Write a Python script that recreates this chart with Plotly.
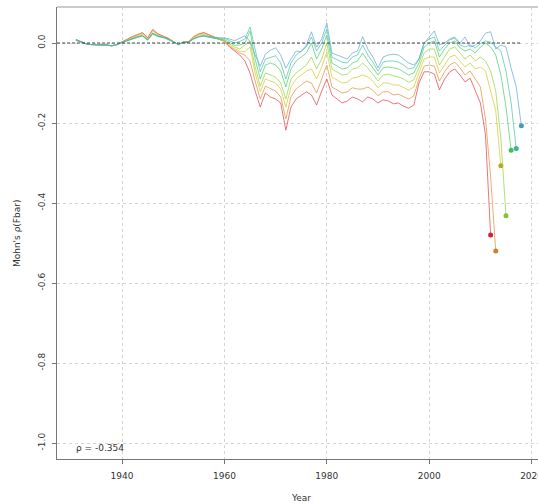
import plotly.graph_objects as go

start_year = 1931
peel_end_years = [2012, 2013, 2014, 2015, 2016, 2017, 2018]

# Relative difference (Fbar) for each retrospective peel, 1931..end year
peel_2012 = [0.009, 0.004, -0.002, -0.004, -0.004, -0.005, -0.005, -0.007, -0.004,
             0.003, 0.010, 0.016, 0.021, 0.026, 0.013, 0.034, 0.023, 0.018, 0.012,
             0.004, -0.004, 0.003, 0.003, 0.016, 0.023, 0.026, 0.020, 0.014, 0.009,
             0.004, -0.010, -0.020, -0.030, -0.045, -0.075, -0.120, -0.160, -0.125, -0.135,
             -0.140, -0.150, -0.218, -0.160, -0.140, -0.130, -0.122, -0.130, -0.155, -0.120,
             -0.090, -0.130, -0.140, -0.150, -0.145, -0.135, -0.140, -0.147, -0.135, -0.140,
             -0.150, -0.142, -0.145, -0.152, -0.150, -0.158, -0.163, -0.155, -0.100, -0.072,
             -0.072, -0.078, -0.117, -0.090, -0.072, -0.065, -0.080, -0.097, -0.088, -0.120,
             -0.150, -0.230, -0.480]
peel_2013 = [0.008, 0.004, -0.002, -0.004, -0.004, -0.005, -0.005, -0.007, -0.004,
             0.003, 0.009, 0.015, 0.020, 0.025, 0.012, 0.032, 0.022, 0.017, 0.012,
             0.004, -0.004, 0.003, 0.003, 0.015, 0.022, 0.025, 0.019, 0.014, 0.009,
             0.006, -0.008, -0.017, -0.025, -0.030, -0.045, -0.095, -0.140, -0.108, -0.115,
             -0.120, -0.135, -0.190, -0.135, -0.115, -0.105, -0.095, -0.100, -0.125, -0.090,
             -0.055, -0.110, -0.118, -0.125, -0.122, -0.112, -0.115, -0.115, -0.110, -0.118,
             -0.132, -0.122, -0.122, -0.130, -0.128, -0.135, -0.140, -0.132, -0.090, -0.058,
             -0.055, -0.058, -0.095, -0.072, -0.055, -0.048, -0.062, -0.080, -0.070, -0.090,
             -0.110, -0.190, -0.335, -0.520]
peel_2014 = [0.008, 0.003, -0.002, -0.004, -0.004, -0.005, -0.005, -0.007, -0.004,
             0.002, 0.008, 0.013, 0.018, 0.022, 0.010, 0.029, 0.020, 0.016, 0.011,
             0.004, -0.004, 0.003, 0.002, 0.014, 0.020, 0.022, 0.017, 0.013, 0.009,
             0.005, -0.005, -0.014, -0.020, -0.022, -0.010, -0.075, -0.122, -0.090, -0.095,
             -0.100, -0.115, -0.160, -0.110, -0.090, -0.080, -0.070, -0.065, -0.090, -0.060,
             -0.022, -0.085, -0.092, -0.100, -0.098, -0.088, -0.085, -0.080, -0.085, -0.095,
             -0.112, -0.100, -0.100, -0.105, -0.105, -0.112, -0.118, -0.110, -0.075, -0.040,
             -0.035, -0.035, -0.075, -0.055, -0.035, -0.030, -0.045, -0.060, -0.050, -0.065,
             -0.060, -0.070, -0.120, -0.170, -0.307]
peel_2015 = [0.008, 0.003, -0.002, -0.004, -0.004, -0.005, -0.005, -0.007, -0.004,
             0.002, 0.007, 0.011, 0.016, 0.019, 0.008, 0.025, 0.018, 0.015, 0.010,
             0.003, -0.004, 0.002, 0.001, 0.012, 0.017, 0.019, 0.015, 0.012, 0.009,
             0.006, -0.002, -0.010, -0.015, -0.005, 0.005, -0.060, -0.108, -0.075, -0.080,
             -0.085, -0.100, -0.140, -0.090, -0.075, -0.065, -0.055, -0.035, -0.065, -0.040,
             0.000, -0.065, -0.072, -0.080, -0.078, -0.065, -0.062, -0.050, -0.062, -0.078,
             -0.095, -0.080, -0.078, -0.082, -0.085, -0.090, -0.098, -0.092, -0.062, -0.025,
             -0.015, -0.015, -0.055, -0.035, -0.015, -0.010, -0.025, -0.040, -0.030, -0.045,
             -0.035, -0.045, -0.070, -0.120, -0.240, -0.432]
peel_2016 = [0.007, 0.003, -0.002, -0.004, -0.004, -0.005, -0.005, -0.007, -0.004,
             0.001, 0.006, 0.010, 0.014, 0.017, 0.007, 0.022, 0.016, 0.014, 0.009,
             0.003, -0.004, 0.002, 0.001, 0.010, 0.015, 0.017, 0.014, 0.012, 0.010,
             0.008, 0.002, -0.006, -0.005, 0.000, 0.030, -0.040, -0.090, -0.055, -0.050,
             -0.055, -0.070, -0.110, -0.065, -0.045, -0.035, -0.025, 0.000, -0.040, -0.015,
             0.020, -0.050, -0.058, -0.065, -0.062, -0.050, -0.045, -0.025, -0.045, -0.062,
             -0.080, -0.062, -0.060, -0.062, -0.065, -0.072, -0.080, -0.075, -0.050, -0.010,
             0.000, 0.005, -0.035, -0.015, 0.000, 0.005, -0.012, -0.020, -0.015, -0.025,
             -0.010, 0.000, -0.010, -0.030, -0.080, -0.160, -0.268]
peel_2017 = [0.007, 0.003, -0.002, -0.004, -0.004, -0.005, -0.005, -0.007, -0.004,
             0.001, 0.006, 0.011, 0.015, 0.018, 0.008, 0.024, 0.017, 0.014, 0.010,
             0.003, -0.004, 0.002, 0.002, 0.011, 0.016, 0.018, 0.015, 0.013, 0.012,
             0.012, 0.006, 0.000, 0.004, 0.010, 0.040, -0.020, -0.072, -0.040, -0.035,
             -0.032, -0.050, -0.090, -0.050, -0.030, -0.020, -0.010, 0.015, -0.020, 0.000,
             0.035, -0.035, -0.042, -0.048, -0.050, -0.035, -0.030, -0.005, -0.030, -0.048,
             -0.070, -0.048, -0.045, -0.045, -0.048, -0.055, -0.065, -0.062, -0.040, 0.000,
             0.010, 0.015, -0.020, -0.005, 0.008, 0.012, -0.005, -0.010, -0.005, -0.012,
             -0.002, 0.005, 0.002, -0.010, -0.020, -0.070, -0.150, -0.264]
peel_2018 = [0.007, 0.003, -0.002, -0.004, -0.004, -0.005, -0.005, -0.007, -0.004,
             0.001, 0.006, 0.011, 0.015, 0.018, 0.008, 0.024, 0.017, 0.014, 0.010,
             0.003, -0.004, 0.002, 0.002, 0.011, 0.016, 0.018, 0.016, 0.014, 0.013,
             0.012, 0.010, 0.006, 0.012, 0.018, 0.004, -0.030, -0.058, -0.028, -0.018,
             -0.012, -0.030, -0.063, -0.040, -0.020, -0.022, -0.005, 0.028, -0.010, 0.010,
             0.050, -0.025, -0.030, -0.035, -0.040, -0.025, -0.020, 0.016, -0.015, -0.035,
             -0.062, -0.035, -0.030, -0.028, -0.030, -0.040, -0.050, -0.055, -0.040, 0.000,
             0.015, 0.030, -0.005, 0.000, 0.010, 0.015, 0.000, 0.015, -0.010, -0.005,
             0.005, 0.025, 0.028, -0.015, -0.005, -0.010, -0.063, -0.110, -0.207]

peels = [peel_2012, peel_2013, peel_2014, peel_2015, peel_2016, peel_2017, peel_2018]

line_colors = ["rgba(225,60,70,0.7)", "rgba(228,140,50,0.7)", "rgba(212,200,40,0.7)",
               "rgba(145,212,60,0.7)", "rgba(70,205,100,0.7)", "rgba(70,195,165,0.7)",
               "rgba(95,165,215,0.7)"]
dot_colors = ["#c8283a", "#d08028", "#b8a820", "#84c430", "#40c060", "#40b098", "#4a98b8"]

x_ticks = [1940, 1960, 1980, 2000, 2020]
y_ticks = [-1.0, -0.8, -0.6, -0.4, -0.2, 0.0]
y_tick_text = ["-1.0", "-0.8", "-0.6", "-0.4", "-0.2", "0.0"]

fig = go.Figure()
for end, vals, lc, dc in zip(peel_end_years, peels, line_colors, dot_colors):
    yrs = list(range(start_year, start_year + len(vals)))
    fig.add_trace(go.Scatter(x=yrs, y=vals, mode="lines",
                             line=dict(color=lc, width=1), showlegend=False,
                             hoverinfo="skip"))
    fig.add_trace(go.Scatter(x=[yrs[-1]], y=[vals[-1]], mode="markers",
                             marker=dict(color=dc, size=5), showlegend=False))

rho = sum(v[-1] for v in peels) / len(peels)

x_range = [1927.3, 2021.25]
axis_common = dict(showgrid=True, gridcolor="#d4d4d4", griddash="3px,3px", gridwidth=1,
                   showline=True, linecolor="#777777", linewidth=1.2,
                   ticks="outside", ticklen=4, tickcolor="#777777",
                   tickfont=dict(family="DejaVu Sans", size=9, color="#333333"),
                   zeroline=False, automargin=False, ticklabeloverflow="allow")

fig.update_layout(
    width=538, height=504,
    margin=dict(l=57, r=0, t=7, b=45),
    paper_bgcolor="white", plot_bgcolor="white",
    xaxis=dict(range=x_range, tickvals=x_ticks, ticklabelstandoff=4, **axis_common),
    yaxis=dict(range=[-1.04, 0.09], tickvals=y_ticks, ticktext=y_tick_text,
               tickangle=-90, ticklabelstandoff=3, **axis_common),
)

# zero reference line
fig.add_shape(type="line", xref="x", yref="y", x0=x_range[0], x1=2018, y0=0, y1=0,
              line=dict(color="#333333", width=0.9, dash="3px,2px"))
# top frame line
fig.add_shape(type="line", xref="paper", yref="paper", x0=0, x1=1, y0=1, y1=1,
              line=dict(color="#cccccc", width=2))

fig.add_annotation(text="Mohn's ρ(Fbar)", xref="paper", yref="paper",
                   x=-0.083, y=0.5, xanchor="center", yanchor="middle", textangle=-90,
                   showarrow=False, font=dict(family="DejaVu Sans", size=9, color="#333333"))
fig.add_annotation(text="Year", xref="paper", yref="paper",
                   x=0.507, y=-0.086, xanchor="center", yanchor="middle",
                   showarrow=False, font=dict(family="DejaVu Sans", size=9, color="#333333"))
fig.add_annotation(text=f"ρ = {rho:.3f}", xref="paper", yref="paper",
                   x=0.035, y=0.024, xanchor="left", yanchor="middle",
                   showarrow=False, font=dict(family="DejaVu Sans", size=9, color="#333333"))

fig.write_html("out.html", config={"displayModeBar": False},
               post_script="document.body.style.margin='0px';document.body.style.overflow='hidden';")
